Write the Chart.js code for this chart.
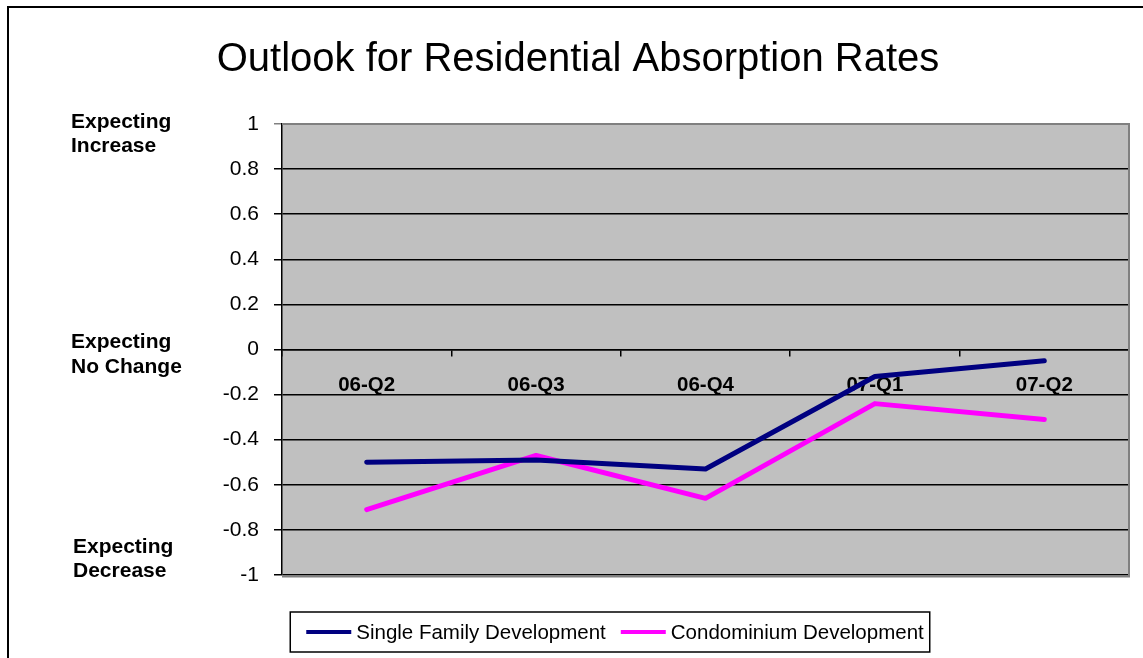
<!DOCTYPE html>
<html><head><meta charset="utf-8">
<script src="https://cdn.jsdelivr.net/npm/chart.js@4.4.1/dist/chart.umd.min.js"></script>
<style>html,body{margin:0;padding:0;background:#fff;overflow:hidden}canvas{display:block}</style>
</head><body>
<canvas id="c" width="1143" height="658"></canvas>
<script>
const titleText = 'Outlook for Residential Absorption Rates';
const categories = ['06-Q2', '06-Q3', '06-Q4', '07-Q1', '07-Q2'];
const singleFamily = [-0.50, -0.49, -0.53, -0.12, -0.05];
const condominium = [-0.71, -0.47, -0.66, -0.24, -0.31];
const seriesNames = ['Single Family Development', 'Condominium Development'];
const seriesColors = ['#000080', '#FF00FF'];
const yMin = -1, yMax = 1, yStep = 0.2;
const sideLabelValues = [1, 0, -1];
const sideLabelTexts = [['Expecting', 'Increase'], ['Expecting', 'No Change'], ['Expecting', 'Decrease']];

const FONT = "'Liberation Sans', Arial, Helvetica, sans-serif";
Chart.defaults.font.family = FONT;
Chart.defaults.color = '#000';

const decorPlugin = {
  id: 'decor',
  beforeDraw(chart) {
    const {ctx, chartArea: a} = chart;
    ctx.save();
    ctx.fillStyle = '#fff';
    ctx.fillRect(0, 0, chart.width, chart.height);
    ctx.fillStyle = '#C0C0C0';
    ctx.fillRect(a.left, a.top, a.right - a.left, a.bottom - a.top);
    ctx.restore();
  },
  afterDraw(chart) {
    const {ctx, chartArea: a} = chart;
    const ys = chart.scales.y;
    ctx.save();
    // plot area frame (grey) top/right/bottom
    ctx.strokeStyle = '#808080';
    ctx.lineWidth = 2;
    ctx.beginPath();
    ctx.moveTo(a.left, a.top);
    ctx.lineTo(a.right, a.top);
    ctx.lineTo(a.right, a.bottom + 1.5);
    ctx.lineTo(a.left, a.bottom + 1.5);
    ctx.stroke();
    // outer chart frame
    ctx.strokeStyle = '#000';
    ctx.lineWidth = 2;
    ctx.strokeRect(8, 7, chart.width + 50, chart.height + 50);
    // side labels
    const offs = [-2, -7, -28];
    const xs = [71, 71, 73];
    ctx.font = `bold 21px ${FONT}`;
    ctx.fillStyle = '#000';
    ctx.textAlign = 'left';
    ctx.textBaseline = 'middle';
    sideLabelValues.forEach((v, i) => {
      const y0 = ys.getPixelForValue(v) + offs[i];
      sideLabelTexts[i].forEach((t, k) => ctx.fillText(t, xs[i], y0 + k * 24.5));
    });
    // legend
    ctx.font = `20.5px ${FONT}`;
    const lineLen = 45, gapLT = 5, gapItems = 15;
    const items = chart.data.datasets.map(ds => ({label: ds.label, color: ds.borderColor, w: ctx.measureText(ds.label).width}));
    const total = items.reduce((s, it) => s + lineLen + gapLT + it.w, 0) + gapItems * (items.length - 1);
    let x = 615 - total / 2;
    const ly = 632;
    ctx.strokeStyle = '#000';
    ctx.lineWidth = 1.5;
    ctx.strokeRect(x - 16, 612, total + 22, 40);
    items.forEach(it => {
      ctx.strokeStyle = it.color;
      ctx.lineWidth = 4;
      ctx.beginPath();
      ctx.moveTo(x, ly);
      ctx.lineTo(x + lineLen, ly);
      ctx.stroke();
      ctx.fillStyle = '#000';
      ctx.fillText(it.label, x + lineLen + gapLT, ly + 1);
      x += lineLen + gapLT + it.w + gapItems;
    });
    ctx.restore();
  }
};

new Chart(document.getElementById('c'), {
  type: 'line',
  data: {
    labels: categories,
    datasets: [
      {label: seriesNames[0], data: singleFamily, borderColor: seriesColors[0], backgroundColor: seriesColors[0],
       borderWidth: 5, pointRadius: 0, tension: 0, fill: false, borderCapStyle: 'round', borderJoinStyle: 'round'},
      {label: seriesNames[1], data: condominium, borderColor: seriesColors[1], backgroundColor: seriesColors[1],
       borderWidth: 5, pointRadius: 0, tension: 0, fill: false, borderCapStyle: 'round', borderJoinStyle: 'round'}
    ]
  },
  options: {
    responsive: false,
    animation: false,
    events: [],
    layout: {padding: {left: 27, right: 14, top: 0, bottom: 83}},
    plugins: {
      title: {display: true, text: titleText, color: '#000',
              font: {size: 40, weight: 'normal', lineHeight: 1.2}, padding: {top: 36, bottom: 40}},
      legend: {display: false},
      tooltip: {enabled: false}
    },
    scales: {
      x: {
        type: 'category',
        position: {y: 0},
        offset: true,
        grid: {offset: true, drawOnChartArea: false, drawTicks: true, tickLength: 6, color: '#000', lineWidth: 1.5},
        border: {display: true, color: '#000', width: 1.5},
        ticks: {font: {size: 20.5, weight: 'bold'}, color: '#000', padding: 18, maxRotation: 0, autoSkip: false}
      },
      y: {
        min: yMin, max: yMax,
        ticks: {stepSize: yStep, color: '#000', font: {size: 21}, padding: 15,
                callback: v => String(Math.round(v * 10) / 10)},
        grid: {color: ctx => (ctx.tick && ctx.tick.value === yMax) ? '#808080' : '#000', lineWidth: 1.5, tickLength: 8},
        border: {display: true, color: '#000', width: 1.5},
        afterFit: s => { s.width = 255; }
      }
    }
  },
  plugins: [decorPlugin]
});
</script>
</body></html>
